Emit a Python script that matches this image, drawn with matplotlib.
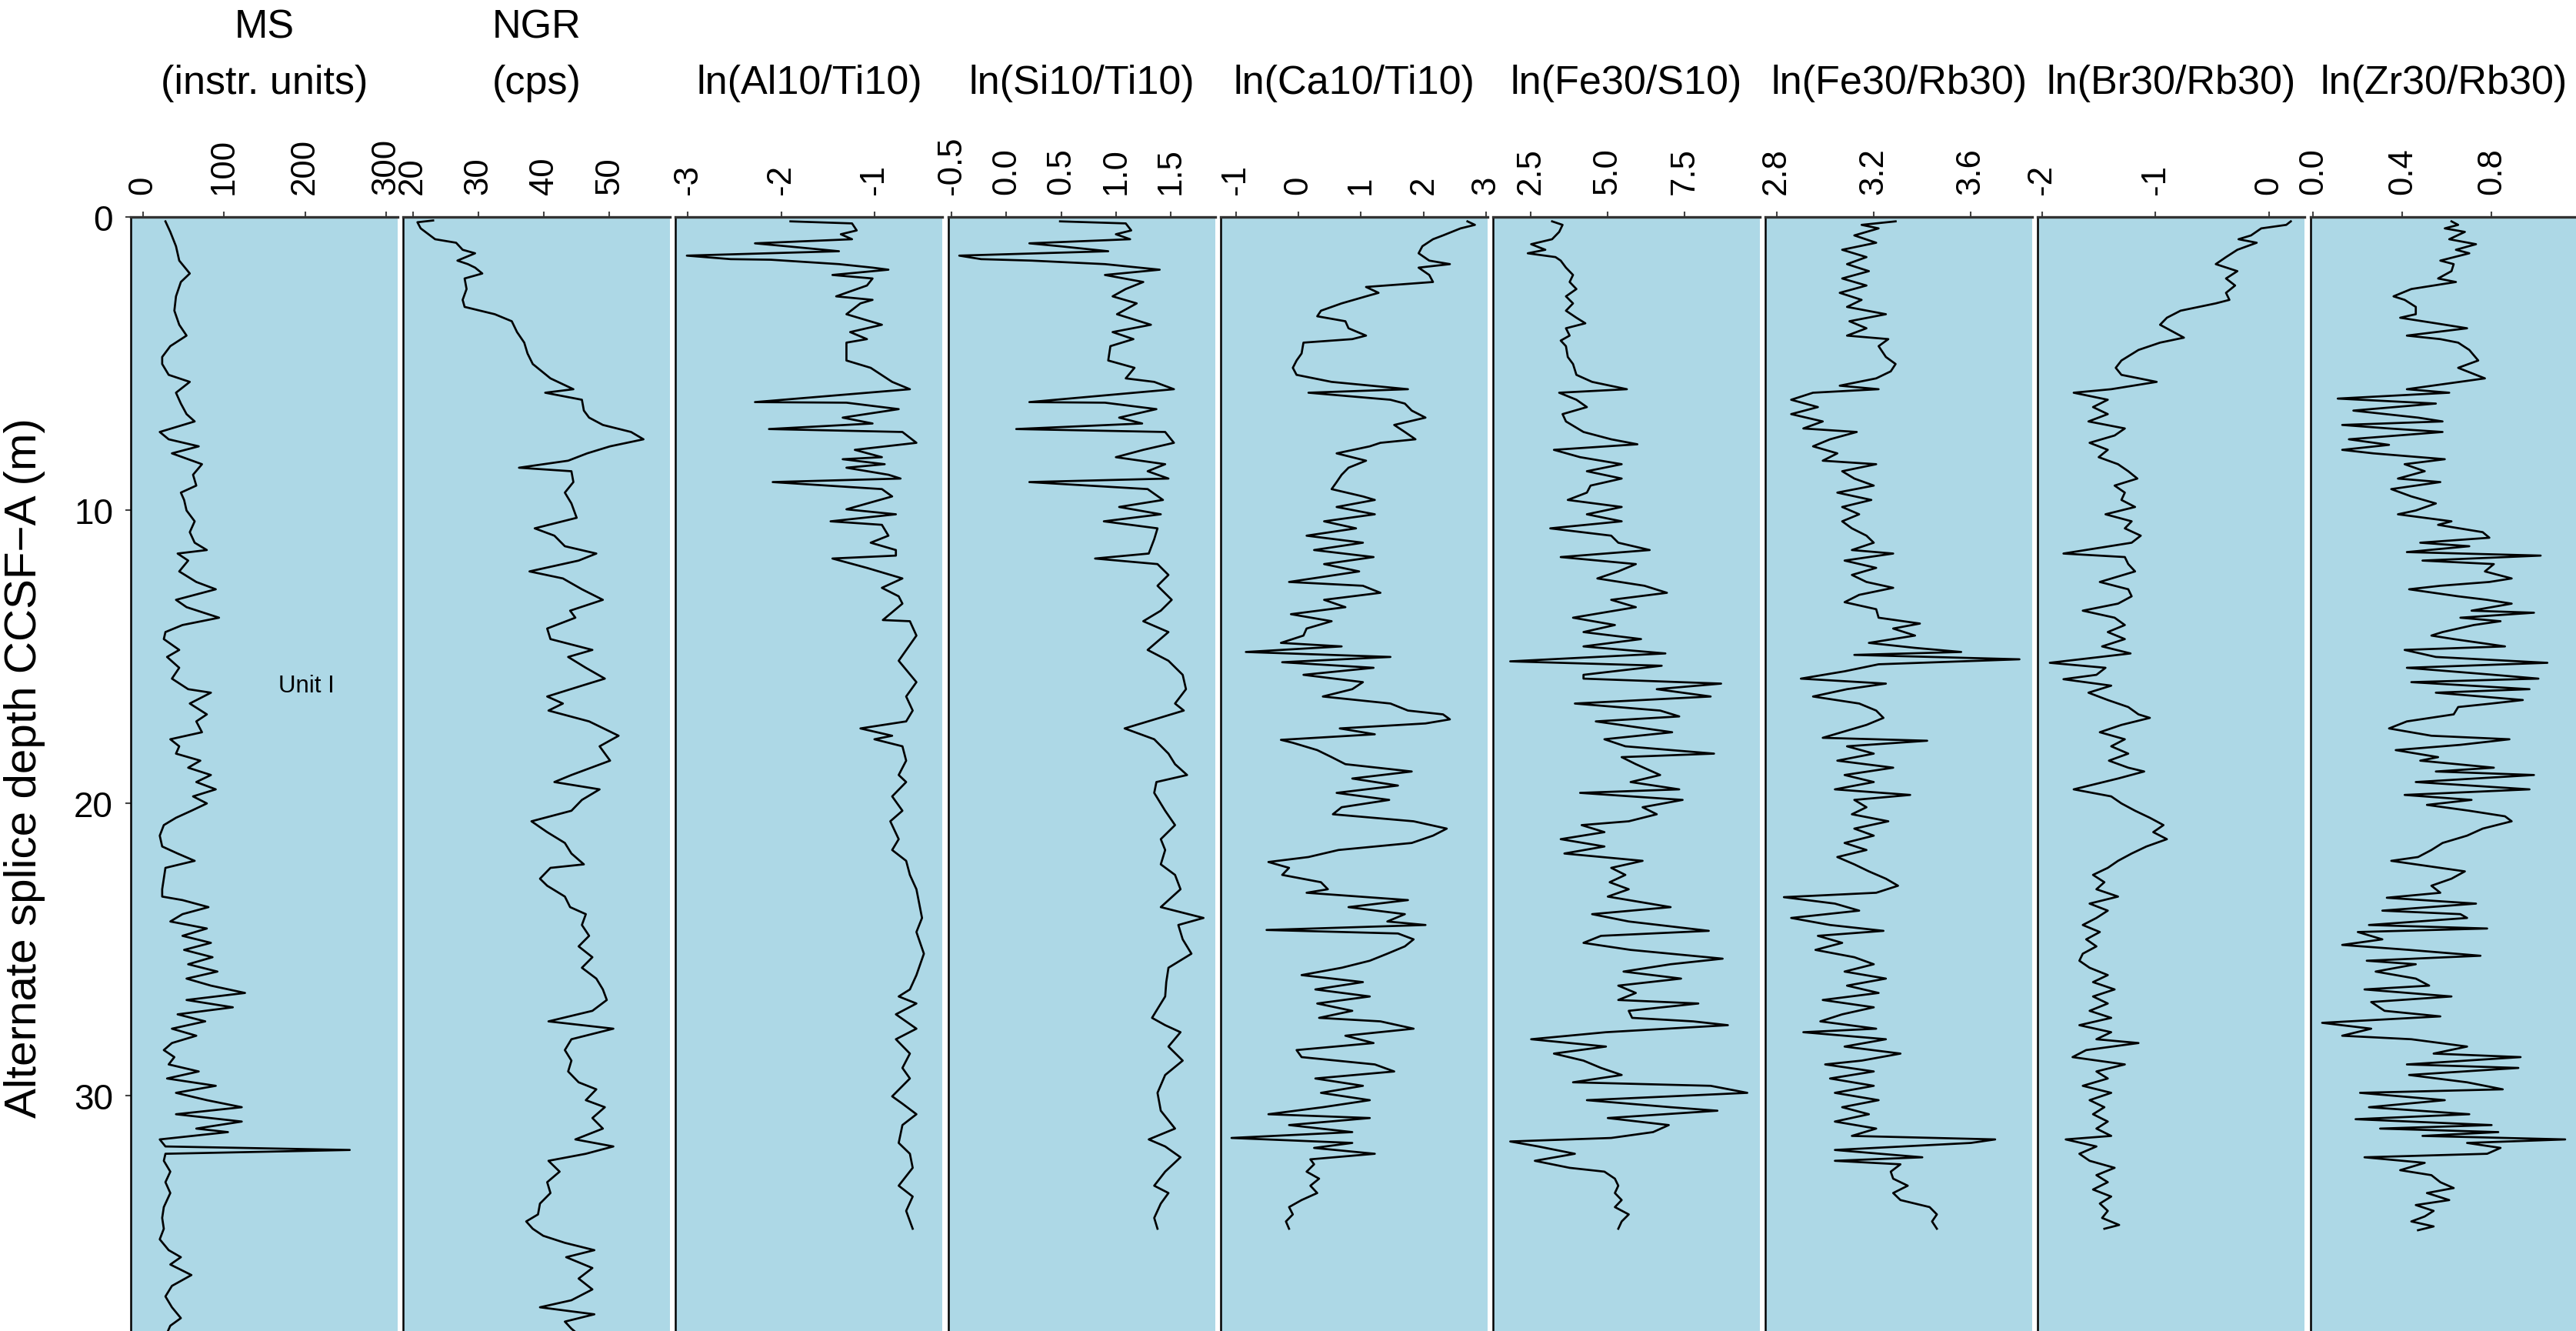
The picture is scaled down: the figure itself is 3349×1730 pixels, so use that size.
import matplotlib
matplotlib.use("Agg")
import matplotlib.pyplot as plt

plt.rcParams['font.family'] = ['Liberation Sans', 'DejaVu Sans']
plt.rcParams['axes.unicode_minus'] = False

# ---- data (depth in m CCSF-A, value) ----
ms_depth = [0.15, 0.51, 1.00, 1.49, 1.93, 2.22, 2.71, 3.20, 3.68, 4.05, 4.41, 4.78, 5.02, 5.39, 5.63, 6.00,
            6.37, 6.73, 6.98, 7.34, 7.59, 7.83, 8.07, 8.44, 8.80, 9.17, 9.41, 9.66, 10.02, 10.39, 10.76,
            11.12, 11.37, 11.49, 11.73, 12.10, 12.46, 12.71, 13.07, 13.32, 13.68, 13.93, 14.17, 14.41,
            14.78, 15.02, 15.39, 15.76, 16.12, 16.24, 16.61, 16.98, 17.22, 17.59, 17.83, 18.07, 18.32,
            18.56, 18.80, 19.05, 19.29, 19.54, 19.78, 20.02, 20.27, 20.51, 20.76, 21.12, 21.49, 21.73,
            21.98, 22.22, 22.59, 22.95, 23.20, 23.32, 23.56, 23.80, 24.05, 24.29, 24.54, 24.78, 25.02,
            25.27, 25.51, 25.76, 26.00, 26.24, 26.49, 26.73, 26.98, 27.22, 27.46, 27.71, 27.95, 28.20,
            28.44, 28.68, 28.93, 29.17, 29.41, 29.66, 29.90, 30.15, 30.39, 30.63, 30.88, 31.12, 31.24,
            31.49, 31.73, 31.85, 31.98, 32.22, 32.59, 32.95, 33.32, 33.80, 34.17, 34.54, 34.90, 35.27,
            35.51, 35.76, 36.12, 36.49, 36.85, 37.22, 37.59, 37.85, 38.10]
ms = [28, 34, 41, 45, 58, 47, 41, 39, 45, 54, 34, 24, 24, 32, 58, 41, 47, 54, 64, 21, 32, 69, 36, 73, 62,
      66, 47, 51, 54, 64, 58, 64, 79, 43, 56, 45, 66, 90, 41, 54, 94, 49, 28, 26, 45, 30, 45, 36, 56, 84,
      58, 79, 66, 73, 34, 45, 41, 71, 56, 84, 66, 90, 62, 79, 60, 41, 26, 21, 24, 43, 64, 28, 26, 24, 24,
      49, 81, 49, 34, 79, 49, 84, 51, 86, 56, 92, 54, 84, 126, 54, 111, 43, 77, 36, 66, 36, 26, 39, 32,
      69, 30, 90, 41, 79, 122, 41, 122, 66, 105, 21, 28, 255, 28, 26, 34, 28, 34, 26, 24, 26, 21, 32, 47,
      34, 60, 36, 28, 36, 47, 34, 30]

ngr_depth = [0.12, 0.18, 0.39, 0.76, 0.88, 1.12, 1.24, 1.49, 1.61, 1.73, 1.93, 2.10, 2.46, 2.83, 3.07,
             3.32, 3.56, 3.93, 4.29, 4.66, 5.02, 5.51, 5.88, 6.00, 6.24, 6.61, 6.85, 7.10, 7.34, 7.59,
             7.83, 8.07, 8.32, 8.56, 8.68, 9.05, 9.41, 9.78, 10.27, 10.63, 10.88, 11.24, 11.49, 11.73,
             12.10, 12.34, 12.71, 13.07, 13.44, 13.68, 14.05, 14.41, 14.78, 15.02, 15.39, 15.76, 16.00,
             16.37, 16.61, 16.85, 17.22, 17.71, 18.07, 18.56, 19.05, 19.29, 19.54, 19.90, 20.27, 20.63,
             21.00, 21.37, 21.73, 22.10, 22.22, 22.59, 22.83, 23.20, 23.56, 23.80, 24.17, 24.54, 24.90,
             25.27, 25.63, 26.00, 26.37, 26.73, 27.10, 27.46, 27.71, 28.07, 28.44, 28.80, 29.17, 29.54,
             29.78, 30.15, 30.39, 30.76, 31.12, 31.49, 31.73, 31.98, 32.22, 32.59, 32.95, 33.32, 33.68,
             34.05, 34.29, 34.54, 34.78, 35.02, 35.27, 35.51, 35.88, 36.24, 36.61, 36.98, 37.22, 37.46,
             37.71, 37.95, 38.10]
ngr = [23.1, 20.7, 21.2, 23.4, 26.6, 27.6, 29.5, 26.8, 28.4, 29.5, 30.6, 27.9, 28.2, 27.6, 27.9, 32.5,
       35.1, 35.9, 37.0, 37.5, 38.3, 41.0, 44.5, 40.2, 45.8, 46.1, 46.9, 49.0, 53.3, 55.2, 50.1, 46.6,
       43.7, 36.2, 44.2, 44.5, 43.2, 44.2, 45.0, 38.6, 41.6, 43.2, 48.0, 45.3, 37.8, 42.9, 45.8, 49.0,
       44.0, 44.8, 40.5, 41.0, 47.4, 43.7, 46.4, 49.3, 45.8, 40.5, 42.9, 40.7, 46.9, 51.4, 48.5, 50.1,
       44.2, 41.6, 48.5, 45.8, 44.2, 38.1, 40.5, 43.2, 44.2, 46.1, 41.0, 39.4, 40.5, 43.2, 44.0, 46.4,
       45.8, 46.9, 45.3, 47.4, 45.8, 48.0, 49.0, 49.6, 47.4, 40.7, 50.6, 44.2, 43.2, 44.2, 43.7, 45.3,
       48.0, 46.4, 49.3, 47.4, 49.0, 44.8, 50.6, 46.4, 40.7, 42.4, 40.5, 41.0, 39.4, 39.1, 37.3, 38.3,
       39.9, 43.2, 47.7, 43.4, 47.4, 45.3, 47.4, 44.2, 39.4, 47.7, 43.2, 44.2, 45.0]

al_depth = [0.15, 0.22, 0.46, 0.59, 0.76, 0.90, 1.00, 1.17, 1.32, 1.44, 1.46, 1.61, 1.73, 1.80, 1.98,
            2.10, 2.34, 2.71, 2.83, 2.95, 3.32, 3.68, 3.93, 4.17, 4.29, 4.90, 5.15, 5.63, 5.88, 6.32,
            6.34, 6.56, 6.85, 7.05, 7.24, 7.34, 7.71, 7.95, 8.20, 8.27, 8.44, 8.56, 8.80, 8.93, 9.05,
            9.29, 9.54, 9.98, 10.15, 10.39, 10.51, 10.88, 11.12, 11.37, 11.56, 11.66, 11.98, 12.34,
            12.66, 12.95, 13.20, 13.76, 13.80, 14.29, 15.15, 15.88, 16.37, 16.85, 17.22, 17.46, 17.71,
            17.83, 18.07, 18.56, 19.05, 19.29, 19.78, 20.27, 20.63, 21.24, 21.61, 21.98, 22.46, 22.95,
            23.93, 24.41, 25.15, 25.88, 26.37, 26.61, 26.85, 27.22, 27.71, 28.07, 28.56, 29.05, 29.41,
            30.02, 30.27, 30.63, 31.00, 31.61, 31.98, 32.46, 33.07, 33.44, 33.93, 34.54]
al_ti = [-1.90, -1.24, -1.19, -1.36, -1.24, -2.28, -1.94, -1.38, -3.01, -2.54, -2.11, -1.38, -1.02,
         -0.85, -1.45, -1.02, -1.08, -1.41, -1.02, -1.15, -1.30, -0.92, -1.26, -1.08, -1.30, -1.30,
         -1.04, -0.81, -0.62, -2.28, -1.30, -0.74, -1.34, -1.02, -2.13, -0.70, -0.55, -1.21, -0.92,
         -1.34, -0.89, -1.30, -0.85, -0.72, -2.09, -0.92, -0.81, -1.30, -0.77, -1.47, -0.92, -0.85,
         -1.04, -0.77, -0.77, -1.45, -1.08, -0.70, -0.92, -0.74, -0.70, -0.91, -0.62, -0.55, -0.74,
         -0.55, -0.66, -0.59, -0.66, -1.15, -0.81, -1.00, -0.70, -0.66, -0.74, -0.66, -0.81, -0.70,
         -0.83, -0.74, -0.81, -0.66, -0.62, -0.55, -0.49, -0.55, -0.47, -0.55, -0.62, -0.74, -0.55,
         -0.77, -0.55, -0.77, -0.62, -0.70, -0.62, -0.81, -0.70, -0.55, -0.70, -0.74, -0.62, -0.59,
         -0.74, -0.59, -0.66, -0.59]

si_depth = [0.15, 0.22, 0.46, 0.59, 0.76, 0.90, 1.00, 1.17, 1.32, 1.44, 1.49, 1.61, 1.80, 1.98, 2.22,
            2.46, 2.71, 2.95, 3.32, 3.68, 3.93, 4.17, 4.41, 4.90, 5.15, 5.51, 5.63, 5.88, 6.32, 6.34,
            6.56, 6.85, 7.05, 7.24, 7.34, 7.71, 7.95, 8.20, 8.44, 8.68, 8.93, 9.05, 9.29, 9.66, 9.90,
            10.15, 10.39, 10.63, 11.00, 11.49, 11.66, 11.85, 12.22, 12.59, 13.07, 13.44, 13.80, 14.17,
            14.78, 15.15, 15.63, 16.12, 16.61, 16.85, 17.46, 17.83, 18.32, 18.68, 19.05, 19.29, 19.66,
            20.27, 20.76, 21.24, 21.61, 22.10, 22.46, 22.95, 23.56, 23.93, 24.17, 24.66, 25.15, 25.63,
            26.12, 26.61, 27.34, 27.59, 27.83, 28.32, 28.80, 29.29, 29.90, 30.51, 31.12, 31.49, 31.73,
            32.10, 32.59, 33.07, 33.32, 33.68, 34.17, 34.54]
si_ti = [0.49, 1.09, 1.14, 1.00, 1.13, 0.21, 0.49, 0.93, -0.43, -0.23, 0.23, 0.90, 1.40, 0.90, 1.25,
         1.09, 0.97, 1.19, 1.01, 1.32, 0.97, 1.16, 0.95, 0.93, 1.17, 1.09, 1.35, 1.53, 0.21, 0.90, 1.37,
         1.03, 1.24, 0.09, 1.45, 1.53, 1.25, 1.00, 1.45, 1.29, 1.48, 0.21, 1.29, 1.43, 1.03, 1.41, 0.89,
         1.38, 1.35, 1.30, 0.81, 1.38, 1.48, 1.38, 1.51, 1.41, 1.25, 1.48, 1.29, 1.48, 1.61, 1.64, 1.54,
         1.62, 1.08, 1.35, 1.48, 1.54, 1.65, 1.37, 1.35, 1.45, 1.54, 1.41, 1.45, 1.41, 1.54, 1.59, 1.41,
         1.80, 1.57, 1.61, 1.69, 1.48, 1.46, 1.45, 1.33, 1.45, 1.59, 1.48, 1.61, 1.45, 1.38, 1.41, 1.54,
         1.30, 1.45, 1.59, 1.45, 1.35, 1.48, 1.41, 1.35, 1.38]

ca_depth = [0.15, 0.27, 0.39, 0.63, 0.76, 1.00, 1.24, 1.49, 1.61, 1.73, 1.98, 2.22, 2.39, 2.59, 2.71,
            2.95, 3.20, 3.39, 3.56, 3.80, 4.05, 4.17, 4.29, 4.66, 4.90, 5.15, 5.39, 5.63, 5.88, 6.00,
            6.24, 6.37, 6.61, 6.85, 7.10, 7.34, 7.59, 7.71, 7.83, 8.07, 8.32, 8.56, 8.80, 9.05, 9.29,
            9.54, 9.66, 9.90, 10.15, 10.39, 10.63, 10.88, 11.12, 11.37, 11.61, 11.85, 12.10, 12.46,
            12.59, 12.83, 13.07, 13.32, 13.56, 13.80, 14.05, 14.29, 14.54, 14.66, 14.85, 15.02, 15.20,
            15.39, 15.63, 15.88, 16.12, 16.37, 16.61, 16.85, 16.98, 17.15, 17.29, 17.46, 17.66, 17.85,
            17.95, 18.20, 18.44, 18.68, 18.93, 19.17, 19.41, 19.66, 19.90, 20.15, 20.39, 20.63, 20.88,
            21.12, 21.37, 21.61, 21.85, 22.02, 22.22, 22.46, 22.71, 22.95, 23.07, 23.32, 23.56, 23.80,
            24.05, 24.17, 24.34, 24.46, 24.66, 24.90, 25.15, 25.39, 25.63, 25.88, 26.12, 26.37, 26.61,
            26.85, 27.10, 27.34, 27.46, 27.71, 27.95, 28.20, 28.44, 28.68, 28.93, 29.17, 29.41, 29.66,
            29.90, 30.15, 30.39, 30.63, 30.76, 31.00, 31.24, 31.44, 31.61, 31.78, 31.98, 32.17, 32.34,
            32.59, 32.83, 33.07, 33.32, 33.56, 33.80, 34.05, 34.29, 34.54]
ca_ti = [2.70, 2.82, 2.59, 2.31, 2.15, 1.98, 1.92, 2.09, 2.42, 1.92, 2.09, 2.15, 1.08, 1.28, 1.08, 0.69,
         0.36, 0.30, 0.75, 0.80, 1.08, 0.86, 0.08, 0.05, -0.03, -0.09, -0.03, 0.53, 1.75, 0.16, 1.47,
         1.70, 1.81, 2.03, 1.53, 1.70, 1.87, 1.31, 1.14, 0.61, 1.08, 0.80, 0.69, 0.61, 0.53, 1.03, 1.22,
         0.61, 1.22, 0.41, 0.92, 0.13, 1.03, 0.25, 1.20, 0.41, 0.97, -0.15, 1.03, 1.31, 0.41, 0.75, -0.12,
         0.53, 0.13, 0.08, -0.28, 0.69, -0.84, 1.47, -0.26, 1.20, 0.08, 1.03, 0.86, 0.39, 1.47, 1.75,
         2.31, 2.42, 2.03, 0.66, 1.22, -0.28, -0.09, 0.30, 0.53, 0.75, 1.81, 0.86, 1.59, 0.61, 1.45,
         0.69, 0.55, 1.84, 2.37, 2.15, 1.81, 0.64, 0.16, -0.48, -0.15, -0.26, 0.36, 0.47, 0.13, 1.75,
         0.80, 1.70, 1.42, 2.03, -0.51, 1.59, 1.84, 1.70, 1.42, 1.14, 0.69, 0.05, 1.03, 0.27, 1.14, 0.30,
         0.86, 0.33, 1.31, 1.84, 0.75, 1.20, -0.03, 0.05, 1.22, 1.53, 0.27, 1.03, 0.36, 1.14, 0.39,
         -0.48, 1.14, -0.15, 0.86, -1.07, 0.86, 0.25, 1.22, 0.19, 0.25, 0.13, 0.33, 0.19, 0.30, 0.05,
         -0.15, -0.09, -0.20, -0.15]

fes_depth = [0.15, 0.27, 0.51, 0.76, 0.93, 1.12, 1.24, 1.37, 1.49, 1.73, 1.98, 2.22, 2.46, 2.71, 2.95,
             3.20, 3.44, 3.63, 3.80, 4.05, 4.22, 4.41, 4.78, 5.02, 5.39, 5.63, 5.88, 6.00, 6.24, 6.49,
             6.73, 6.98, 7.34, 7.59, 7.76, 7.95, 8.20, 8.44, 8.68, 8.93, 9.17, 9.41, 9.66, 9.90, 10.15,
             10.39, 10.63, 10.88, 11.12, 11.37, 11.61, 11.85, 12.10, 12.34, 12.59, 12.83, 13.07, 13.32,
             13.68, 13.93, 14.17, 14.41, 14.66, 14.90, 15.17, 15.32, 15.63, 15.76, 15.93, 16.12, 16.37,
             16.61, 16.85, 17.05, 17.22, 17.59, 17.83, 18.07, 18.32, 18.44, 18.68, 19.05, 19.29, 19.54,
             19.66, 19.90, 20.15, 20.39, 20.63, 20.76, 21.00, 21.24, 21.49, 21.73, 21.98, 22.22, 22.46,
             22.71, 22.95, 23.20, 23.56, 23.80, 24.05, 24.37, 24.54, 24.78, 25.02, 25.15, 25.32, 25.51,
             25.76, 26.00, 26.24, 26.49, 26.73, 26.85, 27.10, 27.34, 27.46, 27.59, 27.83, 28.07, 28.32,
             28.56, 28.80, 29.05, 29.29, 29.54, 29.66, 29.90, 30.15, 30.39, 30.51, 30.76, 31.00, 31.24,
             31.44, 31.56, 31.73, 31.98, 32.22, 32.46, 32.59, 32.83, 33.07, 33.32, 33.56, 33.80, 34.05,
             34.29, 34.54]
fe_s = [3.20, 3.54, 3.43, 3.20, 2.52, 2.98, 2.41, 3.31, 3.48, 3.65, 3.88, 3.77, 3.99, 3.65, 3.88, 3.65,
        3.99, 4.28, 3.65, 3.77, 3.48, 3.65, 3.71, 3.88, 3.99, 4.50, 5.63, 3.43, 3.99, 4.33, 3.54, 3.65,
        4.22, 5.12, 5.97, 3.26, 4.11, 5.46, 4.33, 5.46, 4.45, 4.33, 3.71, 5.46, 4.33, 5.46, 3.14, 5.12,
        5.35, 6.37, 3.48, 5.92, 5.35, 4.67, 6.20, 6.93, 5.12, 5.92, 3.88, 5.24, 4.22, 6.09, 4.22, 6.88,
        1.84, 6.76, 4.22, 4.22, 8.69, 6.60, 8.35, 3.94, 6.71, 7.33, 4.62, 7.10, 4.90, 5.58, 8.46, 5.46,
        5.92, 6.71, 5.75, 7.33, 4.11, 7.44, 6.14, 6.60, 5.69, 4.16, 4.90, 3.48, 4.90, 3.60, 6.14, 5.12,
        5.58, 5.07, 5.69, 5.01, 7.05, 4.50, 5.69, 8.29, 4.79, 4.22, 5.75, 7.05, 8.74, 7.05, 5.52, 7.39,
        5.35, 5.92, 5.35, 7.95, 5.69, 5.80, 7.78, 8.91, 4.95, 2.52, 4.95, 3.26, 4.22, 4.79, 5.46, 3.88,
        8.35, 9.54, 4.33, 7.05, 8.57, 5.01, 6.99, 6.48, 5.12, 1.84, 2.75, 3.94, 2.64, 3.77, 4.90, 5.24,
        5.35, 5.24, 5.46, 5.24, 5.69, 5.46, 5.35]

ferb_depth = [0.15, 0.27, 0.39, 0.63, 0.88, 1.12, 1.37, 1.61, 1.85, 2.10, 2.34, 2.59, 2.83, 3.07, 3.32,
              3.56, 3.80, 4.05, 4.17, 4.41, 4.78, 5.02, 5.27, 5.51, 5.76, 5.88, 6.00, 6.24, 6.49, 6.73,
              6.98, 7.22, 7.34, 7.59, 7.83, 8.07, 8.32, 8.44, 8.68, 8.93, 9.17, 9.41, 9.66, 9.90, 10.15,
              10.39, 10.63, 10.88, 11.12, 11.37, 11.49, 11.73, 11.98, 12.22, 12.46, 12.66, 12.90, 13.15,
              13.39, 13.68, 13.88, 14.05, 14.29, 14.54, 14.71, 14.85, 14.95, 15.10, 15.27, 15.51, 15.76,
              15.93, 16.12, 16.37, 16.61, 16.85, 17.10, 17.34, 17.78, 17.88, 18.07, 18.32, 18.56, 18.80,
              19.05, 19.29, 19.54, 19.73, 19.90, 20.15, 20.39, 20.63, 20.88, 21.12, 21.37, 21.61, 21.85,
              22.10, 22.34, 22.59, 22.83, 23.07, 23.22, 23.44, 23.68, 23.93, 24.17, 24.37, 24.54, 24.78,
              25.02, 25.27, 25.51, 25.76, 26.00, 26.24, 26.49, 26.73, 26.98, 27.22, 27.46, 27.71, 27.83,
              28.07, 28.32, 28.56, 28.80, 28.93, 29.17, 29.41, 29.66, 29.90, 30.15, 30.39, 30.63, 30.88,
              31.12, 31.37, 31.49, 31.61, 31.85, 32.10, 32.22, 32.34, 32.59, 32.83, 33.07, 33.32, 33.56,
              33.80, 34.05, 34.29, 34.54]
fe_rb = [3.29, 3.15, 3.22, 3.12, 3.21, 3.07, 3.17, 3.09, 3.18, 3.07, 3.17, 3.06, 3.15, 3.09, 3.25, 3.10,
         3.17, 3.09, 3.26, 3.22, 3.25, 3.29, 3.27, 3.21, 3.06, 3.22, 2.95, 2.86, 2.97, 2.86, 2.99, 2.91,
         3.13, 3.02, 2.95, 3.05, 2.99, 3.21, 3.07, 3.12, 3.20, 3.05, 3.19, 3.07, 3.14, 3.07, 3.11, 3.17,
         3.20, 3.11, 3.28, 3.08, 3.21, 3.11, 3.17, 3.28, 3.14, 3.08, 3.21, 3.22, 3.39, 3.28, 3.37, 3.18,
         3.37, 3.56, 3.12, 3.80, 3.22, 3.08, 2.90, 3.25, 3.09, 2.95, 3.14, 3.21, 3.24, 3.17, 2.99, 3.42,
         3.09, 3.20, 3.05, 3.28, 3.08, 3.20, 3.04, 3.35, 3.12, 3.17, 3.11, 3.26, 3.12, 3.20, 3.08, 3.17,
         3.05, 3.12, 3.18, 3.25, 3.30, 3.21, 2.83, 3.04, 3.14, 2.86, 3.02, 3.24, 2.97, 3.07, 2.96, 3.12,
         3.20, 3.08, 3.25, 3.09, 3.22, 2.99, 3.20, 3.07, 2.98, 3.21, 2.91, 3.25, 3.08, 3.31, 3.15, 3.00,
         3.20, 3.02, 3.20, 3.04, 3.22, 3.07, 3.18, 3.04, 3.21, 3.11, 3.70, 3.60, 3.04, 3.40, 3.04, 3.31,
         3.27, 3.28, 3.34, 3.28, 3.31, 3.43, 3.46, 3.44, 3.46]

brrb_depth = [0.15, 0.27, 0.39, 0.63, 0.76, 0.88, 1.12, 1.37, 1.61, 1.85, 2.10, 2.34, 2.59, 2.83, 2.95,
              3.20, 3.44, 3.68, 3.93, 4.12, 4.29, 4.54, 4.90, 5.15, 5.39, 5.63, 5.88, 6.00, 6.24, 6.49,
              6.73, 6.98, 7.22, 7.46, 7.71, 7.95, 8.20, 8.44, 8.68, 8.93, 9.17, 9.41, 9.66, 9.90, 10.15,
              10.39, 10.63, 10.88, 11.12, 11.49, 11.61, 11.85, 12.10, 12.46, 12.71, 12.95, 13.20, 13.44,
              13.68, 13.93, 14.17, 14.41, 14.66, 14.90, 15.22, 15.39, 15.63, 15.78, 16.00, 16.24, 16.49,
              16.73, 16.98, 17.10, 17.34, 17.59, 17.83, 18.07, 18.32, 18.56, 18.80, 18.93, 19.17, 19.54,
              19.78, 20.02, 20.27, 20.51, 20.76, 21.00, 21.24, 21.49, 21.73, 21.98, 22.22, 22.46, 22.71,
              22.95, 23.20, 23.44, 23.68, 23.93, 24.17, 24.41, 24.66, 24.90, 25.15, 25.39, 25.63, 25.88,
              26.12, 26.37, 26.61, 26.85, 27.10, 27.34, 27.59, 27.83, 28.07, 28.20, 28.44, 28.68, 28.93,
              29.17, 29.41, 29.66, 29.90, 30.15, 30.39, 30.63, 30.88, 31.12, 31.37, 31.49, 31.73, 31.98,
              32.22, 32.46, 32.71, 32.95, 33.20, 33.44, 33.68, 33.93, 34.17, 34.41, 34.54]
br_rb = [0.19, 0.15, -0.07, -0.16, -0.27, -0.11, -0.28, -0.38, -0.47, -0.28, -0.38, -0.30, -0.38, -0.35,
         -0.47, -0.78, -0.90, -0.96, -0.84, -0.75, -0.96, -1.15, -1.30, -1.35, -1.30, -0.99, -1.39, -1.72,
         -1.42, -1.55, -1.42, -1.59, -1.27, -1.36, -1.58, -1.42, -1.50, -1.33, -1.24, -1.16, -1.36, -1.27,
         -1.30, -1.18, -1.44, -1.21, -1.27, -1.13, -1.21, -1.81, -1.27, -1.24, -1.18, -1.49, -1.24, -1.21,
         -1.33, -1.64, -1.36, -1.27, -1.42, -1.27, -1.47, -1.22, -1.93, -1.44, -1.52, -1.81, -1.39, -1.59,
         -1.42, -1.24, -1.15, -1.05, -1.30, -1.49, -1.27, -1.39, -1.24, -1.41, -1.24, -1.10, -1.33, -1.72,
         -1.39, -1.30, -1.18, -1.05, -0.93, -1.02, -0.90, -1.08, -1.21, -1.33, -1.42, -1.55, -1.45, -1.52,
         -1.33, -1.58, -1.42, -1.52, -1.64, -1.49, -1.61, -1.52, -1.64, -1.67, -1.58, -1.42, -1.55, -1.36,
         -1.55, -1.42, -1.58, -1.39, -1.67, -1.39, -1.52, -1.15, -1.61, -1.73, -1.27, -1.52, -1.42, -1.64,
         -1.39, -1.58, -1.45, -1.55, -1.42, -1.52, -1.39, -1.79, -1.52, -1.67, -1.58, -1.36, -1.52, -1.42,
         -1.55, -1.39, -1.49, -1.42, -1.47, -1.32, -1.45]

zrrb_depth = [0.15, 0.27, 0.39, 0.51, 0.76, 0.93, 1.12, 1.24, 1.49, 1.61, 1.85, 2.10, 2.22, 2.46, 2.71,
              2.83, 3.07, 3.32, 3.44, 3.63, 3.80, 4.05, 4.17, 4.29, 4.54, 4.90, 5.15, 5.51, 5.68, 5.88,
              6.00, 6.20, 6.37, 6.61, 6.85, 6.98, 7.10, 7.22, 7.34, 7.59, 7.78, 7.95, 8.07, 8.27, 8.44,
              8.68, 8.93, 9.05, 9.29, 9.54, 9.78, 10.02, 10.15, 10.39, 10.51, 10.76, 10.95, 11.12, 11.24,
              11.44, 11.56, 11.73, 11.85, 12.10, 12.34, 12.46, 12.59, 12.71, 12.95, 13.07, 13.20, 13.44,
              13.51, 13.68, 13.80, 13.93, 14.17, 14.29, 14.41, 14.66, 14.78, 15.02, 15.22, 15.39, 15.63,
              15.76, 15.88, 16.12, 16.24, 16.49, 16.61, 16.73, 16.98, 17.22, 17.46, 17.71, 17.83, 18.02,
              18.20, 18.44, 18.56, 18.80, 18.93, 19.05, 19.29, 19.54, 19.73, 19.90, 20.07, 20.27, 20.46,
              20.63, 20.88, 21.12, 21.37, 21.61, 21.85, 21.98, 22.22, 22.34, 22.59, 22.83, 23.07, 23.24,
              23.44, 23.68, 23.80, 23.93, 24.17, 24.29, 24.41, 24.66, 24.85, 25.02, 25.22, 25.39, 25.51,
              25.76, 26.00, 26.24, 26.37, 26.61, 26.80, 27.10, 27.29, 27.51, 27.71, 27.95, 28.07, 28.32,
              28.56, 28.68, 28.93, 29.05, 29.29, 29.54, 29.78, 29.90, 30.15, 30.39, 30.63, 30.80, 31.00,
              31.12, 31.24, 31.37, 31.49, 31.61, 31.78, 31.98, 32.10, 32.29, 32.54, 32.71, 32.95, 33.15,
              33.32, 33.56, 33.73, 33.93, 34.12, 34.29, 34.46, 34.59]
zr_rb = [0.62, 0.65, 0.59, 0.68, 0.61, 0.73, 0.64, 0.70, 0.57, 0.63, 0.62, 0.56, 0.64, 0.44, 0.36, 0.41,
         0.46, 0.46, 0.39, 0.55, 0.69, 0.42, 0.57, 0.65, 0.70, 0.74, 0.65, 0.77, 0.61, 0.42, 0.61, 0.11,
         0.55, 0.18, 0.47, 0.58, 0.13, 0.34, 0.58, 0.16, 0.34, 0.13, 0.27, 0.59, 0.41, 0.50, 0.38, 0.57,
         0.35, 0.44, 0.55, 0.46, 0.38, 0.62, 0.56, 0.76, 0.79, 0.48, 0.70, 0.42, 1.02, 0.49, 0.81, 0.77,
         0.89, 0.79, 0.57, 0.43, 0.65, 0.78, 0.89, 0.71, 0.99, 0.66, 0.84, 0.72, 0.58, 0.53, 0.63, 0.86,
         0.41, 0.55, 1.05, 0.42, 0.81, 1.01, 0.44, 0.97, 0.55, 0.94, 0.80, 0.65, 0.63, 0.42, 0.34, 0.53,
         0.88, 0.66, 0.37, 0.56, 0.48, 0.81, 0.55, 0.99, 0.46, 0.97, 0.41, 0.71, 0.51, 0.70, 0.86, 0.89,
         0.76, 0.69, 0.58, 0.53, 0.47, 0.35, 0.57, 0.68, 0.62, 0.53, 0.57, 0.33, 0.73, 0.31, 0.66, 0.69,
         0.25, 0.78, 0.20, 0.31, 0.13, 0.43, 0.75, 0.24, 0.46, 0.28, 0.46, 0.52, 0.23, 0.62, 0.26, 0.32,
         0.57, 0.04, 0.26, 0.13, 0.44, 0.69, 0.54, 0.93, 0.42, 0.92, 0.43, 0.69, 0.85, 0.21, 0.59, 0.25,
         0.70, 0.19, 0.80, 0.30, 0.83, 0.49, 1.13, 0.69, 0.84, 0.78, 0.23, 0.50, 0.39, 0.53, 0.57, 0.63,
         0.51, 0.61, 0.46, 0.54, 0.50, 0.44, 0.54, 0.47]

titles = [["MS", "(instr. units)"], ["NGR", "(cps)"], ["ln(Al10/Ti10)"], ["ln(Si10/Ti10)"],
          ["ln(Ca10/Ti10)"], ["ln(Fe30/S10)"], ["ln(Fe30/Rb30)"], ["ln(Br30/Rb30)"], ["ln(Zr30/Rb30)"]]
xlims = [(-14.7, 314), (18.53, 59.26), (-3.13, -0.27), (-0.532, 1.905), (-1.245, 3.02),
         (1.28, 9.95), (2.754, 3.853), (-2.035, 0.313), (-0.013, 1.184)]
xticks = [[0, 100, 200, 300], [20, 30, 40, 50], [-3, -2, -1], [-0.5, 0.0, 0.5, 1.0, 1.5],
          [-1, 0, 1, 2, 3], [2.5, 5.0, 7.5], [2.8, 3.2, 3.6], [-2, -1, 0], [0.0, 0.4, 0.8]]
xticklabels = [["0", "100", "200", "300"], ["20", "30", "40", "50"], ["-3", "-2", "-1"],
               ["-0.5", "0.0", "0.5", "1.0", "1.5"], ["-1", "0", "1", "2", "3"],
               ["2.5", "5.0", "7.5"], ["2.8", "3.2", "3.6"], ["-2", "-1", "0"], ["0.0", "0.4", "0.8"]]
series = [(ms_depth, ms), (ngr_depth, ngr), (al_depth, al_ti), (si_depth, si_ti), (ca_depth, ca_ti),
          (fes_depth, fe_s), (ferb_depth, fe_rb), (brrb_depth, br_rb), (zrrb_depth, zr_rb)]

W, H = 3349, 1731
fig = plt.figure(figsize=(W / 300, H / 300), dpi=300)

top_px = 283
ax_h = (H - top_px) / H
for i in range(9):
    left = (170 + i * 354.2) / W
    ax = fig.add_axes([left, 0, 347 / W, ax_h])
    ax.set_facecolor('#ADD8E6')
    d, v = series[i]
    ax.plot(v, d, color='black', lw=0.65)
    ax.set_xlim(*xlims[i])
    ax.set_ylim(38.03, 0)
    ax.xaxis.tick_top()
    ax.set_xticks(xticks[i])
    ax.set_xticklabels(xticklabels[i])
    ax.tick_params(axis='x', direction='out', length=1.7, width=0.5, color='#444444',
                   labelsize=10.5, pad=5.5, labelrotation=90)
    for s in ['right', 'bottom']:
        ax.spines[s].set_visible(False)
    ax.spines['top'].set_color('#333333')
    ax.spines['top'].set_linewidth(0.8)
    ax.spines['left'].set_color('black')
    ax.spines['left'].set_linewidth(0.6)
    if i == 0:
        ax.set_yticks([0, 10, 20, 30])
        ax.tick_params(axis='y', direction='out', length=1.7, width=0.5, color='#444444',
                       labelsize=11, pad=3.8)
        ax.text(202, 16.0, "Unit I", fontsize=7.5, ha='center', va='center')
    else:
        ax.tick_params(axis='y', left=False, labelleft=False)

    xc = left + 347 / W / 2
    t = titles[i]
    if len(t) == 2:
        fig.text(xc, 1 - 50 / H, t[0], ha='center', va='baseline', fontsize=12.5)
    fig.text(xc, 1 - 122 / H, t[-1], ha='center', va='baseline', fontsize=12.5)

fig.text(32 / W, 1 - 998 / H, "Alternate splice depth CCSF\u2212A (m)", rotation=90,
         ha='center', va='center', fontsize=14)

fig.savefig("out.png", dpi=300)
